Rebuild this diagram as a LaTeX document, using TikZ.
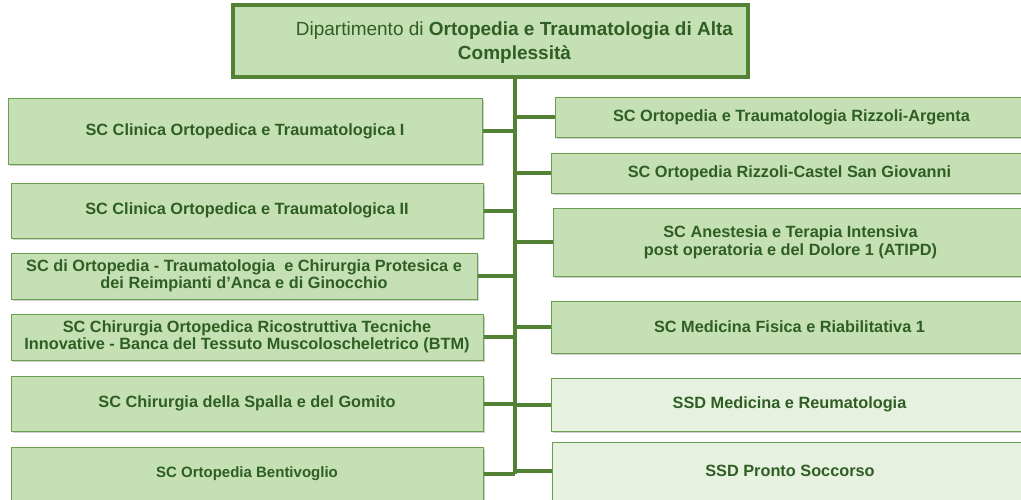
\documentclass[tikz,border=0pt]{standalone}
\usepackage{fontspec}
\setmainfont{Liberation Sans}
\usetikzlibrary{shadows}
\definecolor{boxfill}{HTML}{C5E0B4}
\definecolor{lightfill}{HTML}{E6F2DF}
\definecolor{boxline}{HTML}{6A9F50}
\definecolor{connline}{HTML}{548235}
\definecolor{txt}{HTML}{2F5E24}
\tikzset{
  unit/.style={draw=boxline, line width=1pt, fill=boxfill, text=txt, align=center,
    inner sep=0pt, font=\fontsize{16.3}{18}\selectfont\bfseries,
    drop shadow={shadow xshift=1.5pt, shadow yshift=-2pt, opacity=0.3, fill=black!60}},
  lightunit/.style={unit, fill=lightfill},
  headbox/.style={draw=connline, line width=3.5pt, fill=boxfill, inner sep=0pt,
    drop shadow={shadow xshift=1.5pt, shadow yshift=-2pt, opacity=0.3, fill=black!60}},
  headtext/.style={text=txt, align=center, inner sep=0pt, font=\fontsize{19}{24.5}\selectfont},
  conn/.style={draw=connline, line width=4pt}
}
\begin{document}
\begin{tikzpicture}[x=1pt,y=-1pt]
\useasboundingbox (0,0) rectangle (1021,499);
\node[headbox, minimum width=515pt, minimum height=72pt] (top) at (490.5,41) {};
\node[headtext] (toptitle) at (514.5,42.5)
  {Dipartimento di \textbf{Ortopedia e Traumatologia di Alta}\\ \textbf{Complessità}};
% left
\node[unit, minimum width=474pt, minimum height=66pt] (L1) at (245,131) {SC Clinica Ortopedica e Traumatologica I};
\node[unit, minimum width=472pt, minimum height=55pt] (L2) at (247,210.5) {SC Clinica Ortopedica e Traumatologica II};
\node[unit, minimum width=466pt, minimum height=46pt, font=\fontsize{16.3}{17}\selectfont\bfseries] (L3) at (244,276) {SC di Ortopedia - Traumatologia \ e Chirurgia Protesica e\\ dei Reimpianti d’Anca e di Ginocchio};
\node[unit, minimum width=472pt, minimum height=46pt, font=\fontsize{16.3}{17}\selectfont\bfseries] (L4) at (247,337) {SC Chirurgia Ortopedica Ricostruttiva Tecniche\\ Innovative - Banca del Tessuto Muscoloscheletrico (BTM)};
\node[unit, minimum width=472pt, minimum height=55pt] (L5) at (247,403.5) {SC Chirurgia della Spalla e del Gomito};
\node[unit, minimum width=472pt, minimum height=54pt, font=\fontsize{15}{17}\selectfont\bfseries] (L6) at (247,474) {SC Ortopedia Bentivoglio};
% right
\node[unit, minimum width=473pt, minimum height=40pt] (R1) at (791.5,117) {SC Ortopedia e Traumatologia Rizzoli-Argenta};
\node[unit, minimum width=477pt, minimum height=40pt] (R2) at (789.5,173) {SC Ortopedia Rizzoli-Castel San Giovanni};
\node[unit, minimum width=475pt, minimum height=68pt] (R3) at (790.5,242) {SC Anestesia e Terapia Intensiva\\ post operatoria e del Dolore 1 (ATIPD)};
\node[unit, minimum width=477pt, minimum height=52pt] (R4) at (789.5,327) {SC Medicina Fisica e Riabilitativa 1};
\node[lightunit, minimum width=477pt, minimum height=53pt] (R5) at (789.5,404.5) {SSD Medicina e Reumatologia};
\node[lightunit, minimum width=476pt, minimum height=58pt] (R6) at (790,471) {SSD Pronto Soccorso};
% connectors
\coordinate (tx) at (515,0);
\coordinate (bot) at (515,474);
\draw[conn] (top.south -| tx) -- (bot);
\draw[conn] (L1.east) -- (L1.east -| tx);
\draw[conn] (L2.east) -- (L2.east -| tx);
\draw[conn] (L3.east) -- (L3.east -| tx);
\draw[conn] (L4.east) -- (L4.east -| tx);
\draw[conn] (L5.east) -- (L5.east -| tx);
\draw[conn] (L6.east) -- (L6.east -| tx);
\draw[conn] (R1.west) -- (R1.west -| tx);
\draw[conn] (R2.west) -- (R2.west -| tx);
\draw[conn] (R3.west) -- (R3.west -| tx);
\draw[conn] (R4.west) -- (R4.west -| tx);
\draw[conn] (R5.west) -- (R5.west -| tx);
\draw[conn] (R6.west) -- (R6.west -| tx);
\end{tikzpicture}
\end{document}
